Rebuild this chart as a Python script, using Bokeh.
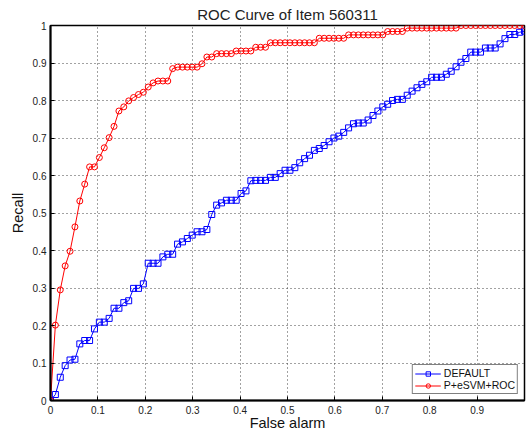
import numpy as np
from bokeh.plotting import figure
from bokeh.models import FixedTicker, Legend, LegendItem, Range1d
from bokeh.embed import file_html
from bokeh.resources import INLINE

# ---- data ----
false_alarm = np.linspace(0.0, 1.0, 98)  # evenly spaced operating points

recall_default = [
    0.000, 0.016, 0.062, 0.093, 0.108, 0.110, 0.151, 0.160, 0.160, 0.191,
    0.209, 0.209, 0.219, 0.246, 0.246, 0.261, 0.266, 0.299, 0.299, 0.311,
    0.366, 0.366, 0.366, 0.383, 0.390, 0.390, 0.417, 0.423, 0.432, 0.441,
    0.450, 0.450, 0.456, 0.496, 0.521, 0.527, 0.534, 0.534, 0.534, 0.552,
    0.559, 0.586, 0.587, 0.587, 0.587, 0.595, 0.595, 0.605, 0.614, 0.614,
    0.621, 0.634, 0.645, 0.654, 0.667, 0.672, 0.680, 0.690, 0.700, 0.705,
    0.715, 0.727, 0.738, 0.740, 0.740, 0.748, 0.760, 0.772, 0.783, 0.790,
    0.800, 0.803, 0.803, 0.814, 0.825, 0.834, 0.843, 0.850, 0.862, 0.862,
    0.862, 0.870, 0.878, 0.890, 0.902, 0.912, 0.929, 0.929, 0.929, 0.940,
    0.940, 0.940, 0.951, 0.965, 0.976, 0.976, 0.982, 0.985,
]

recall_pesvm = [
    0.000, 0.201, 0.295, 0.359, 0.398, 0.463, 0.532, 0.577, 0.623, 0.623,
    0.648, 0.674, 0.701, 0.731, 0.772, 0.783, 0.799, 0.808, 0.816, 0.822,
    0.836, 0.847, 0.852, 0.852, 0.852, 0.885, 0.889, 0.889, 0.889, 0.889,
    0.889, 0.898, 0.916, 0.916, 0.925, 0.925, 0.925, 0.925, 0.932, 0.932,
    0.932, 0.932, 0.942, 0.942, 0.942, 0.954, 0.954, 0.954, 0.954, 0.954,
    0.954, 0.954, 0.954, 0.954, 0.954, 0.966, 0.966, 0.966, 0.966, 0.966,
    0.966, 0.975, 0.975, 0.975, 0.975, 0.975, 0.975, 0.975, 0.975, 0.984,
    0.984, 0.984, 0.984, 0.993, 0.993, 0.993, 0.993, 0.993, 0.993, 0.993,
    0.993, 0.993, 0.993, 0.993, 1.000, 1.000, 1.000, 1.000, 1.000, 1.000,
    1.000, 1.000, 1.000, 1.000, 1.000, 1.000, 1.000, 1.000,
]

series_names = ["DEFAULT", "P+eSVM+ROC"]

x_ticks = [0, 0.1, 0.2, 0.3, 0.4, 0.5, 0.6, 0.7, 0.8, 0.9]
x_tick_labels = ["0", "0.1", "0.2", "0.3", "0.4", "0.5", "0.6", "0.7", "0.8", "0.9"]
y_ticks = [0, 0.1, 0.2, 0.3, 0.4, 0.5, 0.6, 0.7, 0.8, 0.9, 1]
y_tick_labels = ["0", "0.1", "0.2", "0.3", "0.4", "0.5", "0.6", "0.7", "0.8", "0.9", "1"]

title_text = "ROC Curve of Item 560311"
x_label = "False alarm"
y_label = "Recall"

FONT = "Liberation Sans"

p = figure(
    width=526, height=433,
    x_range=Range1d(0, 1), y_range=Range1d(0, 1),
    output_backend="svg", toolbar_location=None,
    min_border_left=50, min_border_right=2,
    min_border_top=25, min_border_bottom=32,
    title=title_text,
)
p.background_fill_color = "white"
p.border_fill_color = "white"
p.outline_line_color = "black"
p.outline_line_width = 1.5

p.title.align = "center"
p.title.text_font = FONT
p.title.text_font_size = "15px"
p.title.text_font_style = "normal"
p.title.text_color = "#222222"
p.title.standoff = 5
p.title.offset = 0

xt = FixedTicker(ticks=x_ticks)
yt = FixedTicker(ticks=y_ticks)

for ax, ticker, labels in ((p.xaxis[0], xt, x_tick_labels), (p.yaxis[0], yt, y_tick_labels)):
    ax.ticker = ticker
    ax.major_label_overrides = {t: l for t, l in zip(ticker.ticks, labels)}
    ax.major_tick_in = 4
    ax.major_tick_out = 0
    ax.minor_tick_line_color = None
    ax.axis_line_width = 2
    ax.axis_line_color = "black"
    ax.major_tick_line_color = "black"
    ax.major_label_text_font = FONT
    ax.major_label_text_font_size = "10px"
    ax.major_label_text_color = "#222222"
    ax.major_label_standoff = 4
    ax.axis_label_text_font = FONT
    ax.axis_label_text_font_size = "14.5px"
    ax.axis_label_text_font_style = "normal"
    ax.axis_label_text_color = "#111111"

p.xaxis.axis_label = x_label
p.yaxis.axis_label = y_label
p.xaxis.major_label_standoff = 5
p.xaxis.axis_label_standoff = -2
p.yaxis.axis_label_standoff = 4

for g, t in ((p.xgrid, xt), (p.ygrid, yt)):
    g.ticker = t
    g.grid_line_color = "#444444"
    g.grid_line_dash = "1 3"
    g.grid_line_width = 1

colors = ["#0000ff", "#ff0000"]
markers = ["square", "circle"]
items = []
for name, ys, c, m in zip(series_names, [recall_default, recall_pesvm], colors, markers):
    ln = p.line(false_alarm, ys, line_color=c, line_width=1)
    sc = p.scatter(false_alarm, ys, marker=m, size=6, line_color=c, fill_color=None, line_width=1)
    items.append(LegendItem(label=name, renderers=[ln, sc]))

legend = Legend(items=items, location="bottom_right")
legend.label_text_font = FONT
legend.label_text_font_size = "10.5px"
legend.label_text_color = "#111111"
legend.label_height = 11
legend.glyph_height = 11
legend.glyph_width = 26
legend.label_standoff = 3
legend.spacing = 0
legend.padding = 2
legend.margin = 6
legend.border_line_color = "black"
legend.border_line_width = 1
legend.background_fill_alpha = 1
p.add_layout(legend)

open("out.html", "w").write(file_html(p, INLINE))
